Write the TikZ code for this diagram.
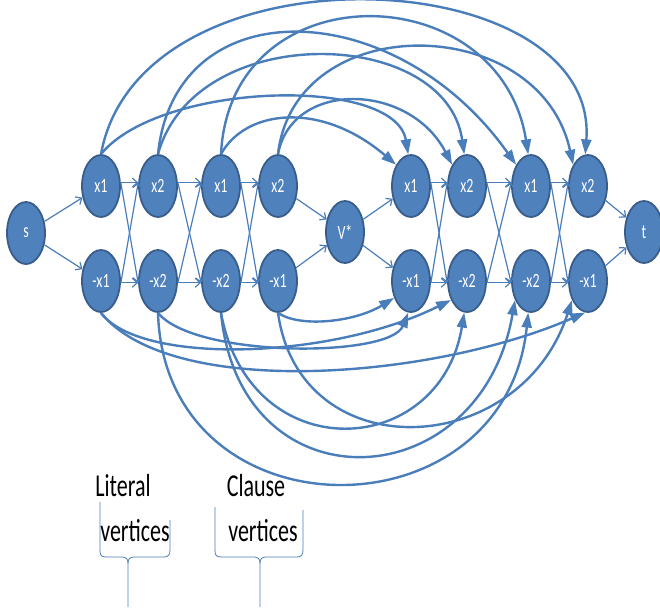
\documentclass[tikz,border=0pt]{standalone}
\usepackage{fontspec}
\setmainfont{Carlito}
\usepackage{graphicx}
\usetikzlibrary{shapes.geometric,arrows.meta}
\definecolor{nodefill}{HTML}{4F81BD}
\definecolor{nodeline}{HTML}{385D8A}
\definecolor{edgecol}{HTML}{4A7EBB}
\newcommand{\stretchtxt}[1]{\scalebox{1}[1.45]{#1}}
\begin{document}
\begin{tikzpicture}[x=1pt,y=-1pt,
  vert/.style={ellipse,draw=nodeline,line width=1.8pt,fill=nodefill,minimum width=38pt,minimum height=62pt,inner sep=0pt,text=white,font=\fontsize{14}{14}\selectfont},
  edge/.style={draw=edgecol,line width=1.2pt,-{Straight Barb[length=5pt,width=9pt]}},
  arc/.style={draw=edgecol,line width=2.4pt,-{Triangle[length=15pt,width=10pt]}},
  brace/.style={draw=edgecol,line width=0.8pt},
  lbl/.style={font=\fontsize{22}{22}\selectfont,text=black,inner sep=0pt}]
\path[use as bounding box] (0,0) rectangle (660,607);
% nodes
\node[vert] (s) at (26,233) {\stretchtxt{s}};
\node[vert] (a1) at (101,186) {\stretchtxt{x1}};
\node[vert] (a2) at (158,186) {\stretchtxt{x2}};
\node[vert] (a3) at (221,186) {\stretchtxt{x1}};
\node[vert] (a4) at (278,186) {\stretchtxt{x2}};
\node[vert] (b1) at (101,281) {\stretchtxt{-x1}};
\node[vert] (b2) at (158,281) {\stretchtxt{-x2}};
\node[vert] (b3) at (221,281) {\stretchtxt{-x2}};
\node[vert] (b4) at (278,281) {\stretchtxt{-x1}};
\node[vert] (v) at (345,232) {\stretchtxt{V*}};
\node[vert] (c1) at (411,186) {\stretchtxt{x1}};
\node[vert] (c2) at (467,186) {\stretchtxt{x2}};
\node[vert] (c3) at (531,186) {\stretchtxt{x1}};
\node[vert] (c4) at (588,186) {\stretchtxt{x2}};
\node[vert] (d1) at (411,281) {\stretchtxt{-x1}};
\node[vert] (d2) at (467,281) {\stretchtxt{-x2}};
\node[vert] (d3) at (531,281) {\stretchtxt{-x2}};
\node[vert] (d4) at (588,281) {\stretchtxt{-x1}};
\node[vert] (t) at (644,232) {\stretchtxt{t}};
% straight edges
\draw[edge] (s) -- (a1);
\draw[edge] (s) -- (b1);
\foreach \p/\q in {a1/a2,a2/a3,a3/a4,c1/c2,c2/c3,c3/c4}{\draw[edge] (\p.10) -- (\q.170);}
\foreach \p/\q in {b1/b2,b2/b3,b3/b4,d1/d2,d2/d3,d3/d4}{\draw[edge] (\p.-5) -- (\q.185);}
\foreach \p/\q in {a1/b2,a2/b3,a3/b4,c1/d2,c2/d3,c3/d4}{\draw[edge] (\p.10) -- (\q.185);}
\foreach \p/\q in {b1/a2,b2/a3,b3/a4,d1/c2,d2/c3,d3/c4}{\draw[edge] (\p.-5) -- (\q.170);}
\draw[edge] (a4) -- (v);
\draw[edge] (b4) -- (v);
\draw[edge] (v) -- (c1);
\draw[edge] (v) -- (d1);
\draw[edge] (c4) -- (t);
\draw[edge] (d4) -- (t);
% top arcs
\draw[arc] (a1.north) .. controls (140,-60) and (600,-40) .. (c4.95);
\draw[arc] (a1.north) .. controls (160,82) and (395,75) .. (c1.95);
\draw[arc] (a2.north) .. controls (195,20) and (446,26) .. (c2.95);
\draw[arc] (a2.north) .. controls (175,-12) and (395,-6) .. (c3.125);
\draw[arc] (a3.north) .. controls (245,110) and (320,100) .. (c1.125);
\draw[arc] (a3.north) .. controls (230,-30) and (500,-25) .. (c3.95);
\draw[arc] (a4.north) .. controls (295,8) and (540,12) .. (c4.125);
\draw[arc] (a4.north) .. controls (292,80) and (409,82) .. (c2.125);
% bottom arcs
\draw[arc] (b4.south) .. controls (300,328) and (355,322) .. (d1.225);
\draw[arc] (b4.south) .. controls (300,470) and (520,460) .. (d4.230);
\draw[arc] (b1.south) .. controls (171,399) and (430,380) .. (d4.265);
\draw[arc] (b1.south) .. controls (140,365) and (330,360) .. (d2.230);
\draw[arc] (b2.south) .. controls (195,358) and (390,358) .. (d1.265);
\draw[arc] (b3.south) .. controls (250,470) and (440,460) .. (d2.265);
\draw[arc] (b3.south) .. controls (240,510) and (480,500) .. (d3.230);
\draw[arc] (b2.south) .. controls (165,540) and (505,540) .. (d3.265);
% labels
\node[lbl] (lit1) at (123,486) {\stretchtxt{Literal}};
\node[lbl] (lit2) at (135,531) {\stretchtxt{vertices}};
\node[lbl] (cl1) at (256,486) {\stretchtxt{Clause}};
\node[lbl] (cl2) at (263,531) {\stretchtxt{vertices}};
% braces
\draw[brace] (100,502) -- (100,551) .. controls (100,556) and (102,557) .. (107,557) -- (122,557) .. controls (126,557) and (128,559) .. (128,563) -- (128,607);
\draw[brace] (128,563) .. controls (128,559) and (130,557) .. (134,557) -- (164,557) .. controls (168,557) and (170,555) .. (170,550) -- (170,520);
\draw[brace] (215,507) -- (215,551) .. controls (215,556) and (217,557) .. (222,557) -- (255,557) .. controls (258,557) and (260,559) .. (260,563) -- (260,607);
\draw[brace] (260,563) .. controls (260,559) and (262,557) .. (266,557) -- (297,557) .. controls (301,557) and (303,555) .. (303,550) -- (303,510);
\end{tikzpicture}
\end{document}
